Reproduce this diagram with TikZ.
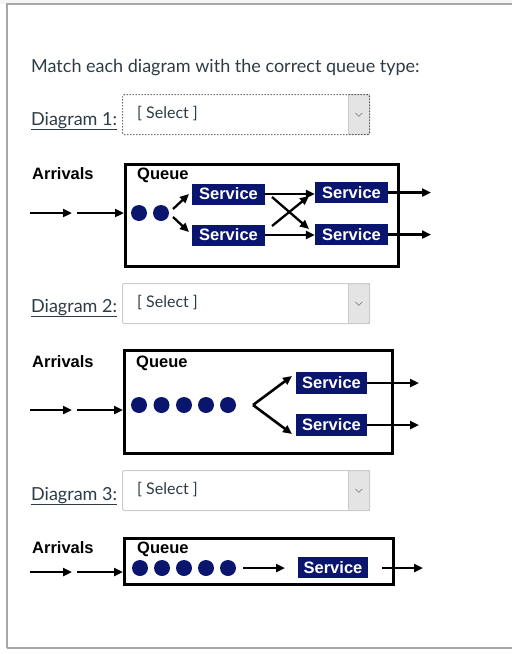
\documentclass[tikz,border=0pt]{standalone}
\usepackage{fontspec}
\setmainfont{Lato}
\newfontfamily\diag{Liberation Sans}
\usetikzlibrary{arrows.meta,calc}
\definecolor{navy}{RGB}{10,22,110}
\definecolor{txt}{RGB}{45,59,69}
\definecolor{frame}{RGB}{168,168,168}
\definecolor{selb}{RGB}{200,204,208}
\definecolor{selg}{RGB}{228,228,228}
\tikzset{
  svc/.style={fill=navy, text=white, font=\diag\bfseries\fontsize{16.5}{18}\selectfont, minimum width=72pt, minimum height=21pt, inner sep=0pt},
  lbl/.style={font=\diag\bfseries\fontsize{16.5}{18}\selectfont, anchor=base west, inner sep=0pt},
  qbox/.style={draw, line width=3pt, anchor=north west, inner sep=0pt},
  arr/.style={line width=2.3pt, -{Triangle[length=9pt,width=8pt]}},
  qdot/.style={circle, fill=navy, minimum size=16pt, inner sep=0pt},
  ui/.style={font=\fontsize{18}{20}\selectfont, text=txt, anchor=base west, inner sep=0pt},
  seltxt/.style={font=\fontsize{16}{18}\selectfont, text=txt, anchor=base west, inner sep=0pt},
  selbox/.style={draw=selb, line width=1pt, rounded corners=2pt, anchor=north west, minimum width=247pt, minimum height=40pt, inner sep=0pt},
  selarrow/.style={fill=selg, draw=selb, line width=0.8pt, anchor=north west, minimum width=21pt, minimum height=40pt, inner sep=0pt},
  chev/.style={draw=black!55, line width=0.6pt},
}
\begin{document}
\begin{tikzpicture}[x=1pt,y=-1pt]
\useasboundingbox (0,0) rectangle (512,654);
% page frame
\fill[black!4] (0,0) rectangle (512,4);
\draw[frame, line width=1.5pt] (7,648) -- (7,4) -- (512,4);
\draw[frame, line width=1.5pt] (7,648) -- (512,648);

\node[ui] (title) at (31,72) {Match each diagram with the correct queue type:};

% ---------- select boxes ----------
\node[ui] (dl1) at (31,125) {\underline{Diagram 1:}};
\node[selarrow] (sa1) at (348,94) {};
\node[selbox, draw=black!85, dotted, line width=1.1pt] (sb1) at (122,94) {};
\node[seltxt] (st1) at (137,118) {[ Select ]};
\draw[chev] ($(sa1.center)+(-3.5,-1.5)$) -- ($(sa1.center)+(0,2)$) -- ($(sa1.center)+(3.5,-1.5)$);

\node[ui] (dl2) at (31,312) {\underline{Diagram 2:}};
\node[selarrow] (sa2) at (348,283) {};
\node[selbox] (sb2) at (122,283) {};
\node[seltxt] (st2) at (137,307) {[ Select ]};
\draw[chev] ($(sa2.center)+(-3.5,-1.5)$) -- ($(sa2.center)+(0,2)$) -- ($(sa2.center)+(3.5,-1.5)$);

\node[ui] (dl3) at (31,500) {\underline{Diagram 3:}};
\node[selarrow] (sa3) at (348,470) {};
\node[selbox] (sb3) at (122,470) {};
\node[seltxt] (st3) at (137,494) {[ Select ]};
\draw[chev] ($(sa3.center)+(-3.5,-1.5)$) -- ($(sa3.center)+(0,2)$) -- ($(sa3.center)+(3.5,-1.5)$);

% ---------- diagram 1 ----------
\node[qbox, minimum width=273pt, minimum height=102pt] (q1) at (124,163) {};
\node[lbl] (ar1) at (32,179) {Arrivals};
\node[lbl] (qu1) at (137,179) {Queue};
\coordinate (a11) at (30,213);
\coordinate (a12) at (72,213);
\coordinate (a13) at (77,213);
\draw[arr] (a11) -- (a12);
\draw[arr] (a13) -- (a13 -| q1.west);
\node[qdot] (d11) at (139,213) {};
\node[qdot] (d12) at (161,213) {};
\node[svc, minimum width=73pt] (s1) at (228.5,194) {Service};
\node[svc, minimum width=73pt] (s2) at (228.5,235) {Service};
\node[svc, minimum width=73pt] (s3) at (351.5,192.5) {Service};
\node[svc, minimum width=73pt] (s4) at (351.5,234.5) {Service};
\coordinate (f1) at (173,209);
\coordinate (f2) at (189,194);
\coordinate (f3) at (173,217);
\coordinate (f4) at (189,232);
\draw[arr] (f1) -- (f2);
\draw[arr] (f3) -- (f4);
\draw[arr] (s1.east) -- (s1.east -| s3.west);
\draw[arr] (s2.east) -- (s2.east -| s4.west);
\coordinate (x1) at (272,226);
\coordinate (x2) at (309,196);
\coordinate (x3) at (272,197);
\coordinate (x4) at (309,229);
\draw[arr] (x1) -- (x2);
\draw[arr] (x3) -- (x4);
\coordinate (o1) at (431,192.5);
\coordinate (o2) at (431,234.5);
\draw[arr] (s3.east) -- (o1);
\draw[arr] (s4.east) -- (o2);

% ---------- diagram 2 ----------
\node[qbox, minimum width=268pt, minimum height=103pt] (q2) at (123,349) {};
\node[lbl] (ar2) at (32,367) {Arrivals};
\node[lbl] (qu2) at (136,367) {Queue};
\coordinate (a21) at (30,410);
\coordinate (a22) at (72,410);
\coordinate (a23) at (77,410);
\draw[arr] (a21) -- (a22);
\draw[arr] (a23) -- (a23 -| q2.west);
\node[qdot] (d21) at (139,405) {};
\node[qdot] (d22) at (161.5,405) {};
\node[qdot] (d23) at (184,405) {};
\node[qdot] (d24) at (206,405) {};
\node[qdot] (d25) at (228,405) {};
\coordinate (v2) at (253,405);
\coordinate (c2u) at (292,376);
\coordinate (c2d) at (292,434);
\draw[arr, line width=2.6pt, line join=miter] (v2) -- (c2u);
\draw[arr, line width=2.6pt, line join=miter] (v2) -- (c2d);
\node[svc, minimum width=71pt, minimum height=22pt] (s5) at (331.5,383) {Service};
\node[svc, minimum width=71pt, minimum height=22pt] (s6) at (331.5,425) {Service};
\coordinate (o3) at (419,383);
\coordinate (o4) at (419,425);
\draw[arr] (s5.east) -- (o3);
\draw[arr] (s6.east) -- (o4);

% ---------- diagram 3 ----------
\node[qbox, minimum width=269pt, minimum height=46pt] (q3) at (123,537) {};
\node[lbl] (ar3) at (32,553) {Arrivals};
\node[lbl] (qu3) at (137,553) {Queue};
\coordinate (a31) at (30,572);
\coordinate (a32) at (72,572);
\coordinate (a33) at (77,572);
\draw[arr] (a31) -- (a32);
\draw[arr] (a33) -- (a33 -| q3.west);
\node[qdot] (d31) at (140,568) {};
\node[qdot] (d32) at (162,568) {};
\node[qdot] (d33) at (184,568) {};
\node[qdot] (d34) at (206,568) {};
\node[qdot] (d35) at (228,568) {};
\coordinate (m3) at (285,568);
\draw[arr] (d35.east) ++(7,0) -- (m3);
\node[svc, minimum width=70pt] (s7) at (333,567.5) {Service};
\coordinate (i3) at (382,568);
\coordinate (o5) at (423,568);
\draw[arr] (i3) -- (o5);
\end{tikzpicture}
\end{document}
